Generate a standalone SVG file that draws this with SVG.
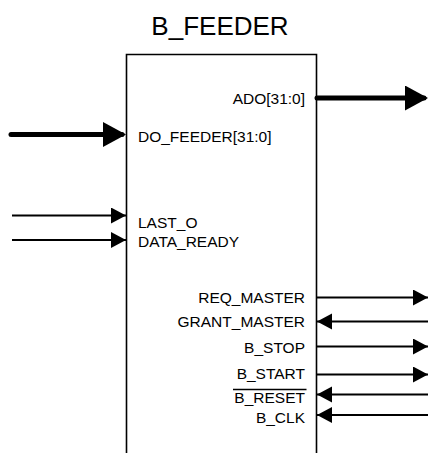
<svg xmlns="http://www.w3.org/2000/svg" width="428" height="453" viewBox="0 0 428 453">
<style>
text{font-family:"Liberation Sans",Arial,sans-serif;fill:#000}
.t{font-size:26px}
.p{font-size:15.5px}
.r{text-anchor:end}
.bus{stroke:#000;stroke-width:5;stroke-linecap:round;fill:none}
.sig{stroke:#000;stroke-width:1.8;fill:none}
</style>
<defs>
<marker id="big" markerUnits="userSpaceOnUse" markerWidth="24" markerHeight="26" refX="19" refY="12.5" orient="auto"><path d="M0,0 L23,12.5 L0,25 Z" fill="#000"/></marker>
<marker id="sm" markerUnits="userSpaceOnUse" markerWidth="16" markerHeight="17" refX="15" refY="8" orient="auto"><path d="M0,0 L15,8 L0,16 Z" fill="#000"/></marker>
</defs>
<g id="b_feeder">
<text class="t" x="220" y="35" text-anchor="middle">B_FEEDER</text>
<path d="M126.5,460 V54.5 H316.5 V460" fill="none" stroke="#000" stroke-width="1.6"/>
<text class="p r" x="305" y="104">ADO[31:0]</text>
<text class="p" x="138" y="142">DO_FEEDER[31:0]</text>
<text class="p" x="138" y="228">LAST_O</text>
<text class="p" x="138" y="247">DATA_READY</text>
<text class="p r" x="305" y="303">REQ_MASTER</text>
<text class="p r" x="305" y="327">GRANT_MASTER</text>
<text class="p r" x="305" y="352.5">B_STOP</text>
<text class="p r" x="305" y="379">B_START</text>
<text class="p r" x="305" y="403">B_RESET</text>
<line x1="233" y1="389.5" x2="306.5" y2="389.5" stroke="#000" stroke-width="1.3"/>
<text class="p r" x="305" y="423">B_CLK</text>
</g>
<g id="connectors">
<line class="bus" x1="317" y1="98" x2="424" y2="98" marker-end="url(#big)"/>
<line class="bus" x1="11" y1="134.5" x2="122" y2="134.5" marker-end="url(#big)"/>
<line class="sig" x1="12" y1="215.5" x2="126" y2="215.5" marker-end="url(#sm)"/>
<line class="sig" x1="12" y1="240" x2="126" y2="240" marker-end="url(#sm)"/>
<line class="sig" x1="317" y1="297.5" x2="428" y2="297.5" marker-end="url(#sm)"/>
<line class="sig" x1="428" y1="321.5" x2="317" y2="321.5" marker-end="url(#sm)"/>
<line class="sig" x1="317" y1="346.5" x2="428" y2="346.5" marker-end="url(#sm)"/>
<line class="sig" x1="317" y1="374.5" x2="428" y2="374.5" marker-end="url(#sm)"/>
<line class="sig" x1="428" y1="394.5" x2="317" y2="394.5" marker-end="url(#sm)"/>
<line class="sig" x1="428" y1="415" x2="317" y2="415" marker-end="url(#sm)"/>
</g>
</svg>
